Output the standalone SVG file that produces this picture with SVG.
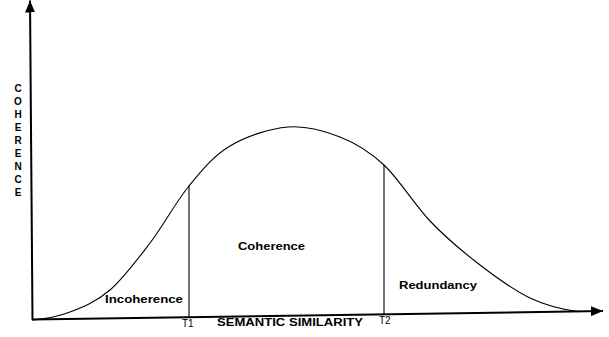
<svg xmlns="http://www.w3.org/2000/svg" width="609" height="337" viewBox="0 0 609 337">
<style>
.axis{stroke:#000;stroke-width:2;fill:none}
.thin{stroke:#000;stroke-width:1.1;fill:none}
.b{font-family:"Liberation Sans",Arial,sans-serif;font-weight:bold;font-size:10px;fill:#000}
.r{font-family:"Liberation Sans",Arial,sans-serif;font-size:10px;fill:#000}
</style>
<defs>
<marker id="ah" viewBox="0 0 12 10" refX="12" refY="5" markerWidth="12" markerHeight="10" markerUnits="userSpaceOnUse" orient="auto">
<path d="M0,0 L12,5 L0,10 Z" fill="#000"/>
</marker>
</defs>
<g id="connectors">
<path id="y-axis" class="axis" d="M32.5,320 L30,0.5" marker-end="url(#ah)"/>
<path id="x-axis" class="axis" d="M32,319.5 L603,311" marker-end="url(#ah)"/>
<path id="curve" class="thin" d="M32,320 C45,319 57,317 70,312 C83,307 96.7,301.5 110,290 C123.3,278.5 136.8,260.3 150,243 C163.2,225.7 175.7,202.2 189,186 C202.3,169.8 213.5,155.8 230,146 C246.5,136.2 269.7,128.5 288,127 C306.3,125.5 324,130.7 340,137 C356,143.3 369,151 384,165 C399,179 414,204.3 430,221 C446,237.7 463.3,252.2 480,265 C496.7,277.8 514.2,290.5 530,298 C545.8,305.5 562,309.5 578,311.5"/>
<line id="t1-line" class="thin" x1="189" y1="185" x2="189" y2="317"/>
<line id="t2-line" class="thin" x1="384" y1="165" x2="384" y2="314"/>
</g>
<g id="y-label">
<text class="b" text-anchor="middle" x="18" y="92">C</text>
<text class="b" text-anchor="middle" x="18" y="105">O</text>
<text class="b" text-anchor="middle" x="18" y="118">H</text>
<text class="b" text-anchor="middle" x="18" y="131">E</text>
<text class="b" text-anchor="middle" x="18" y="144">R</text>
<text class="b" text-anchor="middle" x="18" y="157">E</text>
<text class="b" text-anchor="middle" x="18" y="170">N</text>
<text class="b" text-anchor="middle" x="18" y="183">C</text>
<text class="b" text-anchor="middle" x="18" y="196">E</text>
</g>
<g id="x-label">
<text class="b" x="217" y="326" textLength="146" lengthAdjust="spacingAndGlyphs">SEMANTIC SIMILARITY</text>
</g>
<g id="t1"><text class="r" x="182" y="327">T1</text></g>
<g id="t2"><text class="r" x="379" y="324">T2</text></g>
<g id="incoherence"><text class="b" x="105" y="302.5" textLength="78" lengthAdjust="spacingAndGlyphs">Incoherence</text></g>
<g id="coherence"><text class="b" x="238" y="250" textLength="67" lengthAdjust="spacingAndGlyphs">Coherence</text></g>
<g id="redundancy"><text class="b" x="399" y="289" textLength="78" lengthAdjust="spacingAndGlyphs">Redundancy</text></g>
</svg>
